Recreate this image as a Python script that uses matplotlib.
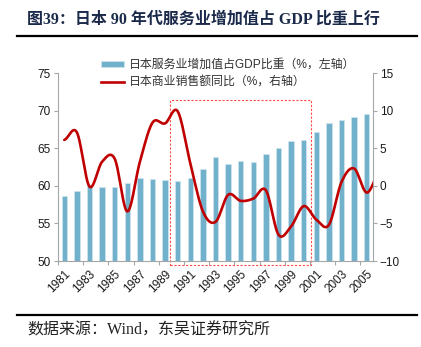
import numpy as np
import matplotlib
matplotlib.use("Agg")
import matplotlib.pyplot as plt
from matplotlib.lines import Line2D
from matplotlib.patches import Rectangle, Patch

plt.rcParams['font.family'] = ['Liberation Sans', 'Noto Sans CJK SC', 'DejaVu Sans']

# ---- data ----
years = list(range(1981, 2006))
service_share = [58.6, 59.3, 60.1, 59.8, 59.8, 60.4, 61.0, 60.9, 60.8, 60.6,
                 61.1, 62.3, 63.8, 62.9, 63.3, 63.2, 64.2, 65.0, 65.9, 66.1,
                 67.2, 68.4, 68.8, 69.1, 69.6]
sales_years = list(range(1981, 2007))
sales_yoy = [6.1, 7.1, -0.1, 3.2, 3.6, -3.4, 3.2, 8.4, 8.3, 9.9,
             3.0, -3.4, -4.8, -1.2, -2.0, -1.7, -0.6, -6.5, -5.4, -2.7,
             -4.5, -5.2, 0.5, 2.3, -0.9, 1.8]
xtick_labels = [str(y) for y in years[::2]]

title = "图39：日本 90 年代服务业增加值占 GDP 比重上行"
source = "数据来源：Wind，东吴证券研究所"
bar_label = "日本服务业增加值占GDP比重（%，左轴）"
line_label = "日本商业销售额同比（%，右轴）"

BAR_COLOR = "#72b1cc"
LINE_COLOR = "#c00000"
AXIS_COLOR = "#a6a6a6"


def smooth(xs, ys, n=24):
    """Catmull-Rom curve through the points (Excel-style smoothed line)."""
    xs = np.asarray(xs, float)
    ys = np.asarray(ys, float)
    out_x, out_y = [], []
    k = len(xs)
    for i in range(k - 1):
        p0 = ys[i - 1] if i > 0 else ys[i]
        p1, p2 = ys[i], ys[i + 1]
        p3 = ys[i + 2] if i + 2 < k else ys[i + 1]
        m1 = (p2 - p0) / 2.0
        m2 = (p3 - p1) / 2.0
        t = np.linspace(0, 1, n, endpoint=(i == k - 2))
        h00 = 2 * t**3 - 3 * t**2 + 1
        h10 = t**3 - 2 * t**2 + t
        h01 = -2 * t**3 + 3 * t**2
        h11 = t**3 - t**2
        out_y.append(h00 * p1 + h10 * m1 + h01 * p2 + h11 * m2)
        out_x.append(xs[i] + t * (xs[i + 1] - xs[i]))
    return np.concatenate(out_x), np.concatenate(out_y)


fig = plt.figure(figsize=(4.21, 3.47), dpi=100)
W, H = 421, 347
ax = fig.add_axes([58 / W, 1 - 261 / H, (373 - 58) / W, (261 - 73) / H])

xpos = np.arange(len(years))
bars = ax.bar(xpos, service_share, width=0.42, color=BAR_COLOR,
              edgecolor="#cfe5ef", linewidth=0.5, zorder=2)
ax.set_xlim(-0.5, len(years) - 0.5)
ax.set_ylim(50, 75)
ax.set_yticks(np.arange(50, 76, 5))

# category ticks between every second pair, labels on odd years
ax.set_xticks(np.arange(-0.5, len(years), 2))
ax.set_xticklabels([])
ax.set_xticks(xpos[::2], minor=True)
ax.set_xticklabels(xtick_labels, minor=True, rotation=45, ha="right",
                   rotation_mode="anchor", fontsize=8.5, color="#1a1a1a")
ax.tick_params(axis="x", which="minor", length=0, pad=5)
ax.tick_params(axis="x", which="major", length=3, color=AXIS_COLOR, direction="out")
ax.tick_params(axis="y", length=3, color=AXIS_COLOR, direction="out",
               labelsize=8.5, labelcolor="#1a1a1a", pad=2)

ax2 = ax.twinx()
sx = np.arange(len(sales_years))
lx, ly = smooth(sx, sales_yoy)
line, = ax2.plot(lx, ly, color=LINE_COLOR, lw=1.9, solid_capstyle="round", zorder=3)
ax2.set_ylim(-10, 15)
ax2.set_yticks(np.arange(-10, 16, 5))
ax2.tick_params(axis="y", length=3, color=AXIS_COLOR, direction="out",
                labelsize=8.5, labelcolor="#1a1a1a", pad=2)
ax2.set_xlim(-0.5, len(years) - 0.5)

for a in (ax, ax2):
    a.spines["top"].set_visible(False)
    for s in ("left", "right", "bottom"):
        a.spines[s].set_color(AXIS_COLOR)
        a.spines[s].set_linewidth(0.8)
ax.spines["right"].set_visible(False)
ax2.spines["left"].set_visible(False)
ax2.spines["bottom"].set_visible(False)

# highlighted 1990s window
i0 = years.index(1990)
i1 = years.index(2000)
ax.add_patch(Rectangle((i0 - 0.65, 49.45), (i1 + 0.55) - (i0 - 0.65), 71.4 - 49.45,
                       fill=False, edgecolor="#ff4b4b", linestyle=(0, (2, 1.5)),
                       linewidth=0.8, clip_on=False, zorder=2.5))

handles = [Patch(facecolor=BAR_COLOR, edgecolor="#cfe5ef", linewidth=0.5),
           Line2D([0], [0], color=LINE_COLOR, lw=1.9)]
fig.legend(handles, [bar_label, line_label], loc="upper left",
           bbox_to_anchor=(101 / W, 1 - 59 / H), frameon=False,
           handlelength=1.9, handleheight=0.45, handletextpad=0.45,
           labelspacing=0.45, borderpad=0, borderaxespad=0, labelcolor="#333333",
           prop={"family": ["Liberation Sans", "Noto Sans CJK SC"], "size": 8.6})

fig.text(27 / W, 1 - 20 / H, title, ha="left", va="center", fontsize=11.5,
         fontweight="bold", color="#1b2a4a",
         family=["Liberation Serif", "Noto Sans CJK SC"])
fig.add_artist(Line2D([17 / W, 417 / W], [1 - 35.5 / H] * 2, color="black", lw=1.6))
fig.add_artist(Line2D([17 / W, 417 / W], [1 - 315 / H] * 2, color="black", lw=1.6))
fig.text(27 / W, 1 - 330.5 / H, source, ha="left", va="center", fontsize=11.5,
         color="#222222", family=["Liberation Serif", "Noto Sans CJK SC"])

fig.savefig("out.png", dpi=100)
